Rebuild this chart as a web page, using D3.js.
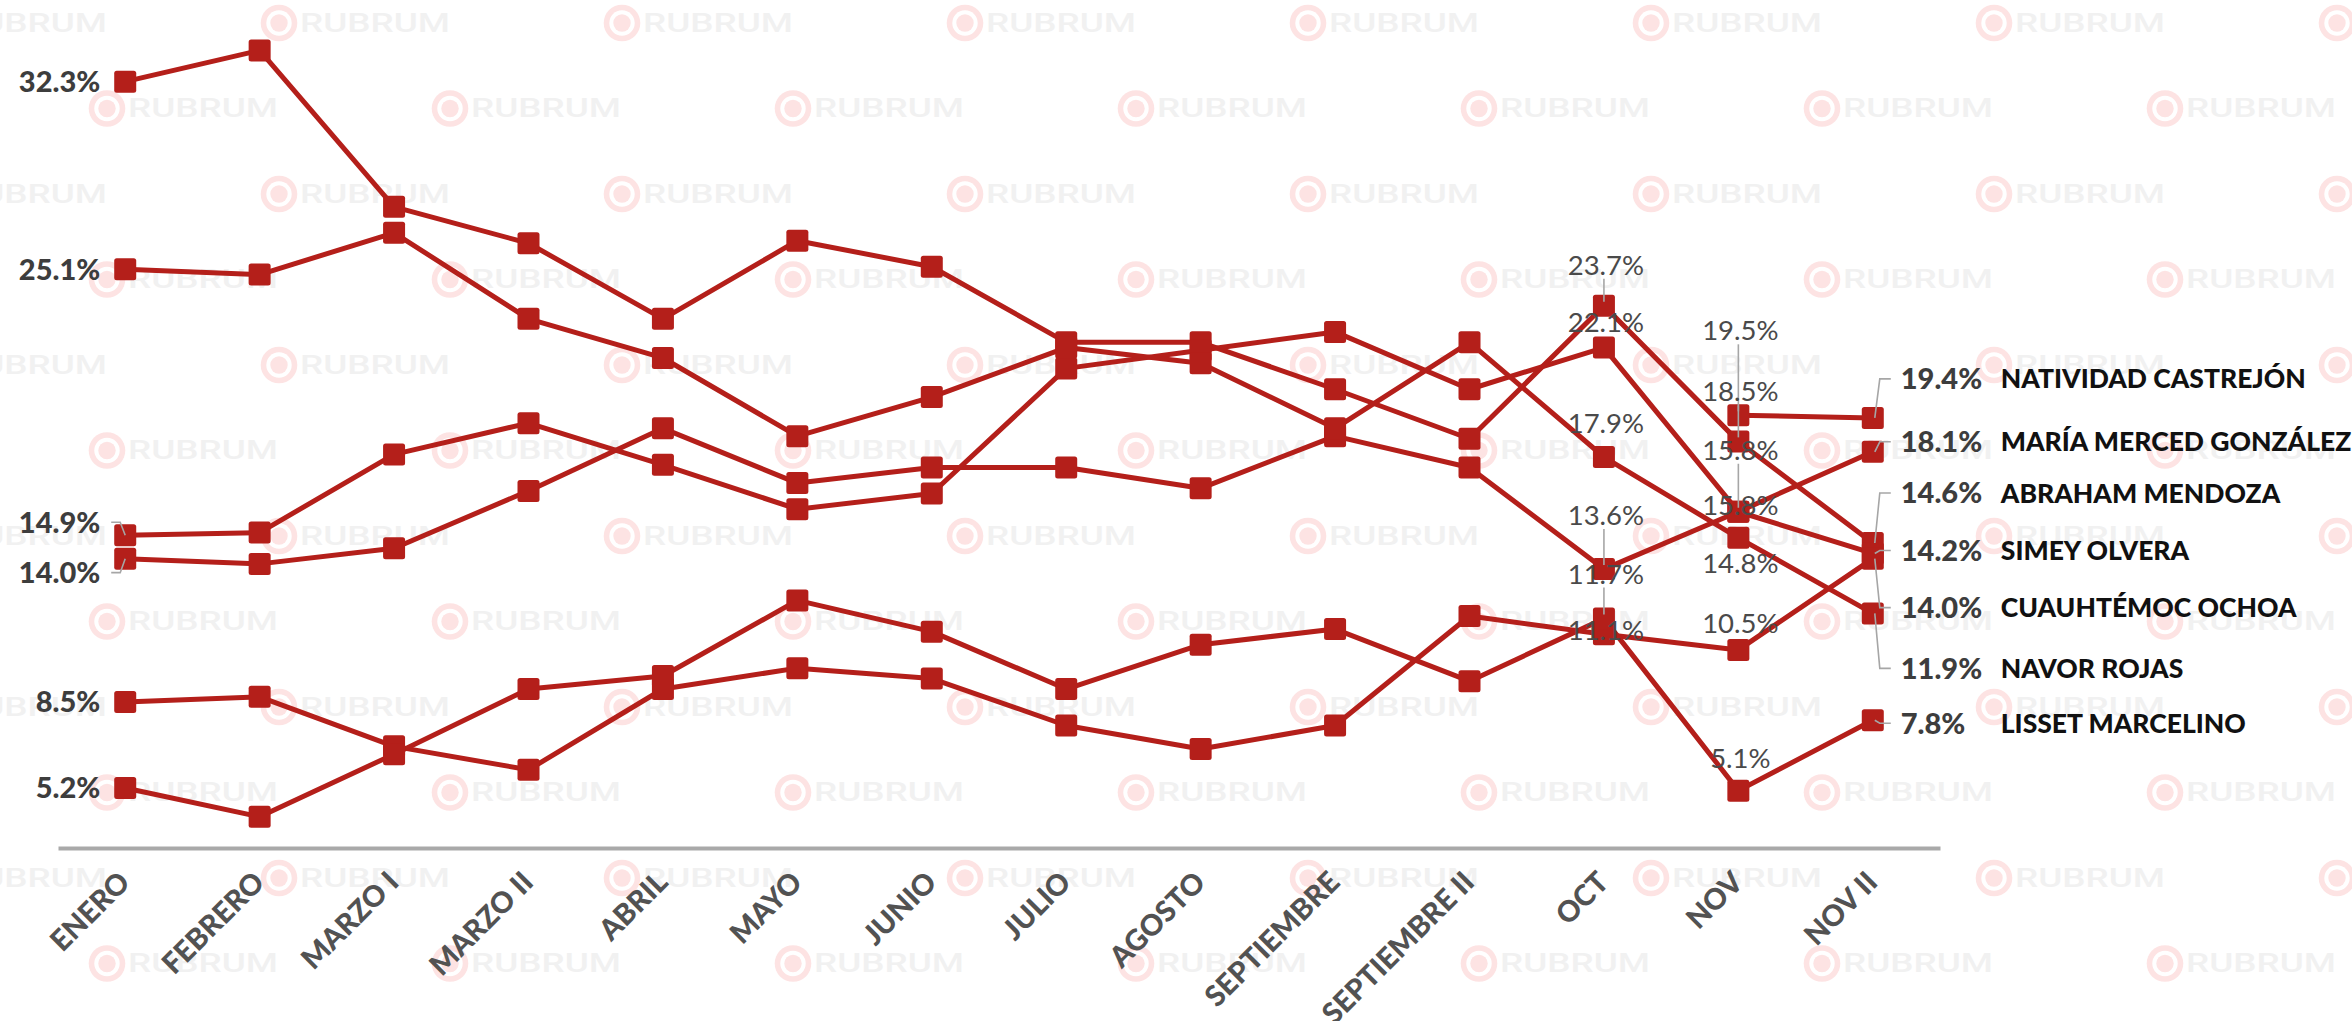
<!DOCTYPE html>
<html>
<head>
<meta charset="utf-8">
<script src="https://cdn.jsdelivr.net/npm/d3@7"></script>
<style>
  html, body { margin: 0; padding: 0; background: #ffffff; }
  svg { display: block; }
</style>
</head>
<body>
<svg id="chart" width="2352" height="1021"></svg>
<script>
// ---- data -------------------------------------------------------------
const categories = ["ENERO", "FEBRERO", "MARZO I", "MARZO II", "ABRIL", "MAYO", "JUNIO",
  "JULIO", "AGOSTO", "SEPTIEMBRE", "SEPTIEMBRE II", "OCT", "NOV", "NOV II"];

const candidates = ["NATIVIDAD CASTREJÓN", "MARÍA MERCED GONZÁLEZ", "ABRAHAM MENDOZA",
  "SIMEY OLVERA", "CUAUHTÉMOC OCHOA", "NAVOR ROJAS", "LISSET MARCELINO"];

// percentage of preference per survey round
const natividad   = [null, null, null, null, null, null, null, null, null, null, null, null, 19.5, 19.4];
const mariaMerced = [14.0, 13.8, 14.4, 16.6, 19.0, 16.9, 17.5, 17.5, 16.7, 18.7, 17.5, 13.6, 15.8, 18.1];
const abraham     = [32.3, 33.5, 27.5, 26.1, 23.2, 26.2, 25.2, 22.3, 22.3, 20.5, 18.6, 23.7, 18.5, 14.6];
const simey       = [14.9, 15.0, 18.0, 19.2, 17.6, 15.9, 16.5, 21.3, 22.0, 22.7, 20.5, 22.1, 15.8, 14.2];
const cuauhtemoc  = [8.5, 8.7, 6.8, 5.9, 9.0, 9.8, 9.4, 7.6, 6.7, 7.6, 11.8, 11.1, 10.5, 14.0];
const navor       = [25.1, 24.9, 26.5, 23.2, 21.7, 18.7, 20.2, 22.1, 21.5, 19.0, 22.3, 17.9, 14.8, 11.9];
const lisset      = [5.2, 4.1, 6.5, 9.0, 9.5, 12.4, 11.2, 9.0, 10.7, 11.3, 9.3, 11.7, 5.1, 7.8];

const seriesValues = [natividad, mariaMerced, abraham, simey, cuauhtemoc, navor, lisset];

// ---- label placement (vertical nudge of a value label from its point) --
// first-round labels, to the left of the points
const startNudge = { "SIMEY OLVERA": -13, "MARÍA MERCED GONZÁLEZ": 14 };
// labels at OCT and NOV, above/below the points; lead = draw a leader line
const midNudge = {
  "OCT": {
    "ABRAHAM MENDOZA": { dy: -41, lead: true },
    "SIMEY OLVERA": { dy: -25 },
    "NAVOR ROJAS": { dy: -34 },
    "MARÍA MERCED GONZÁLEZ": { dy: -54, lead: true },
    "LISSET MARCELINO": { dy: -45, lead: true },
    "CUAUHTÉMOC OCHOA": { dy: -4 }
  },
  "NOV": {
    "NATIVIDAD CASTREJÓN": { dy: -85, lead: true },
    "ABRAHAM MENDOZA": { dy: -50, lead: true },
    "MARÍA MERCED GONZÁLEZ": { dy: -62, lead: true },
    "SIMEY OLVERA": { dy: -7 },
    "NAVOR ROJAS": { dy: 25 },
    "CUAUHTÉMOC OCHOA": { dy: -27 },
    "LISSET MARCELINO": { dy: -33 }
  }
};
// last-round labels, to the right of the points
const endNudge = {
  "NATIVIDAD CASTREJÓN": -39, "MARÍA MERCED GONZÁLEZ": -10, "ABRAHAM MENDOZA": -50,
  "SIMEY OLVERA": -3, "CUAUHTÉMOC OCHOA": 49, "NAVOR ROJAS": 55, "LISSET MARCELINO": 3
};

// ---- setup -------------------------------------------------------------
const W = 2352, H = 1021;
const RED = "#b41f1a";
const LEADER = "#a6a6a6";
const svg = d3.select("#chart");

const x = d3.scalePoint().domain(categories).range([58, 1940]).padding(0.5);
const y = d3.scaleLinear().domain([2.9, 35]).range([848, 11.3]);

const series = candidates.map((name, i) => ({
  name,
  points: categories.map((c, j) => ({ c, v: seriesValues[i][j] }))
}));

// ---- background brand pattern -------------------------------------------
const wm = svg.append("g").attr("class", "watermark");
for (let r = 0; r < 13; r++) {
  const cy = 23 + r * 85.5;
  for (let cx = (r % 2 === 0 ? -64 : 107); cx < W + 60; cx += 343) {
    const g = wm.append("g").attr("transform", `translate(${cx},${cy})`);
    g.append("circle").attr("r", 18.3).attr("fill", "#fde3e3");
    g.append("circle").attr("r", 12.7).attr("fill", "#ffffff");
    g.append("circle").attr("r", 8.7).attr("fill", "#fde3e3");
    g.append("text").attr("x", 21).attr("dy", "0.35em")
      .attr("font-family", "Roboto").attr("font-weight", 500).attr("font-size", 25)
      .attr("fill", "#f1f1f1").attr("textLength", 150).attr("lengthAdjust", "spacingAndGlyphs")
      .text("RUBRUM");
  }
}

// ---- x axis ------------------------------------------------------------------
const axis = svg.append("g").attr("transform", "translate(0,848)")
  .call(d3.axisBottom(x).tickSize(0).tickSizeOuter(0));
axis.select(".domain").attr("stroke", "#a9a9a9").attr("stroke-width", 4);
axis.selectAll(".tick text")
  .attr("x", 0).attr("y", 0).attr("dy", 0)
  .attr("text-anchor", "end")
  .attr("transform", "translate(6,36) rotate(-45)")
  .attr("font-family", "Lato").attr("font-weight", 900).attr("font-size", 29)
  .attr("fill", "#525252");

// ---- lines and markers ---------------------------------------------------------
const line = d3.line()
  .defined(d => d.v != null)
  .x(d => x(d.c))
  .y(d => y(d.v));

svg.append("g").selectAll("path").data(series).join("path")
  .attr("d", d => line(d.points))
  .attr("fill", "none").attr("stroke", RED).attr("stroke-width", 5)
  .attr("stroke-linejoin", "round");

const M = 22;
svg.append("g").selectAll("g").data(series).join("g")
  .selectAll("rect").data(d => d.points.filter(p => p.v != null)).join("rect")
  .attr("x", d => x(d.c) - M / 2).attr("y", d => y(d.v) - M / 2)
  .attr("width", M).attr("height", M).attr("rx", 2.5)
  .attr("fill", RED);

// ---- labels ------------------------------------------------------------------
const fmt = v => v.toFixed(1) + "%";
const leaders = svg.append("g").attr("fill", "none").attr("stroke", LEADER).attr("stroke-width", 1.6);
const labels = svg.append("g");

// first round
const c0 = categories[0];
series.forEach(s => {
  const v = s.points[0].v;
  if (v == null) return;
  const px = x(c0), py = y(v);
  const ly = py + (startNudge[s.name] || 0);
  labels.append("text").attr("x", px - 25).attr("y", ly).attr("dy", "0.36em")
    .attr("text-anchor", "end").attr("font-family", "Lato").attr("font-weight", 900)
    .attr("font-size", 29).attr("fill", "#3d3d3d").text(fmt(v));
  if (startNudge[s.name]) {
    leaders.append("polyline")
      .attr("points", `${px - 14},${ly} ${px - 5},${ly} ${px},${py}`);
  }
});

// OCT / NOV
Object.keys(midNudge).forEach(c => {
  const j = categories.indexOf(c);
  series.forEach(s => {
    const cfg = midNudge[c][s.name];
    const v = s.points[j].v;
    if (!cfg || v == null) return;
    const px = x(c), py = y(v), ly = py + cfg.dy;
    labels.append("text").attr("x", px + 2).attr("y", ly).attr("dy", "0.36em")
      .attr("text-anchor", "middle").attr("font-family", "Lato").attr("font-weight", 400)
      .attr("font-size", 27.5).attr("fill", "#4a4a4a").text(fmt(v));
    if (cfg.lead) {
      const y1 = cfg.dy < 0 ? ly + 14 : ly - 14;
      leaders.append("line").attr("x1", px).attr("x2", px).attr("y1", y1).attr("y2", py - 4);
    }
  });
});

// last round: value and name
const cN = categories[categories.length - 1];
series.forEach(s => {
  const v = s.points[categories.length - 1].v;
  const px = x(cN), py = y(v);
  const ly = py + endNudge[s.name];
  labels.append("text").attr("x", px + 28).attr("y", ly).attr("dy", "0.36em")
    .attr("font-family", "Lato").attr("font-weight", 900).attr("font-size", 29)
    .attr("fill", "#3d3d3d").text(fmt(v));
  labels.append("text").attr("x", px + 128).attr("y", ly).attr("dy", "0.36em")
    .attr("font-family", "Lato").attr("font-weight", 900).attr("font-size", 26.5)
    .attr("fill", "#111111").text(s.name);
  leaders.append("polyline")
    .attr("points", `${px + 2},${py} ${px + 7},${ly} ${px + 18},${ly}`);
});
</script>
</body>
</html>
